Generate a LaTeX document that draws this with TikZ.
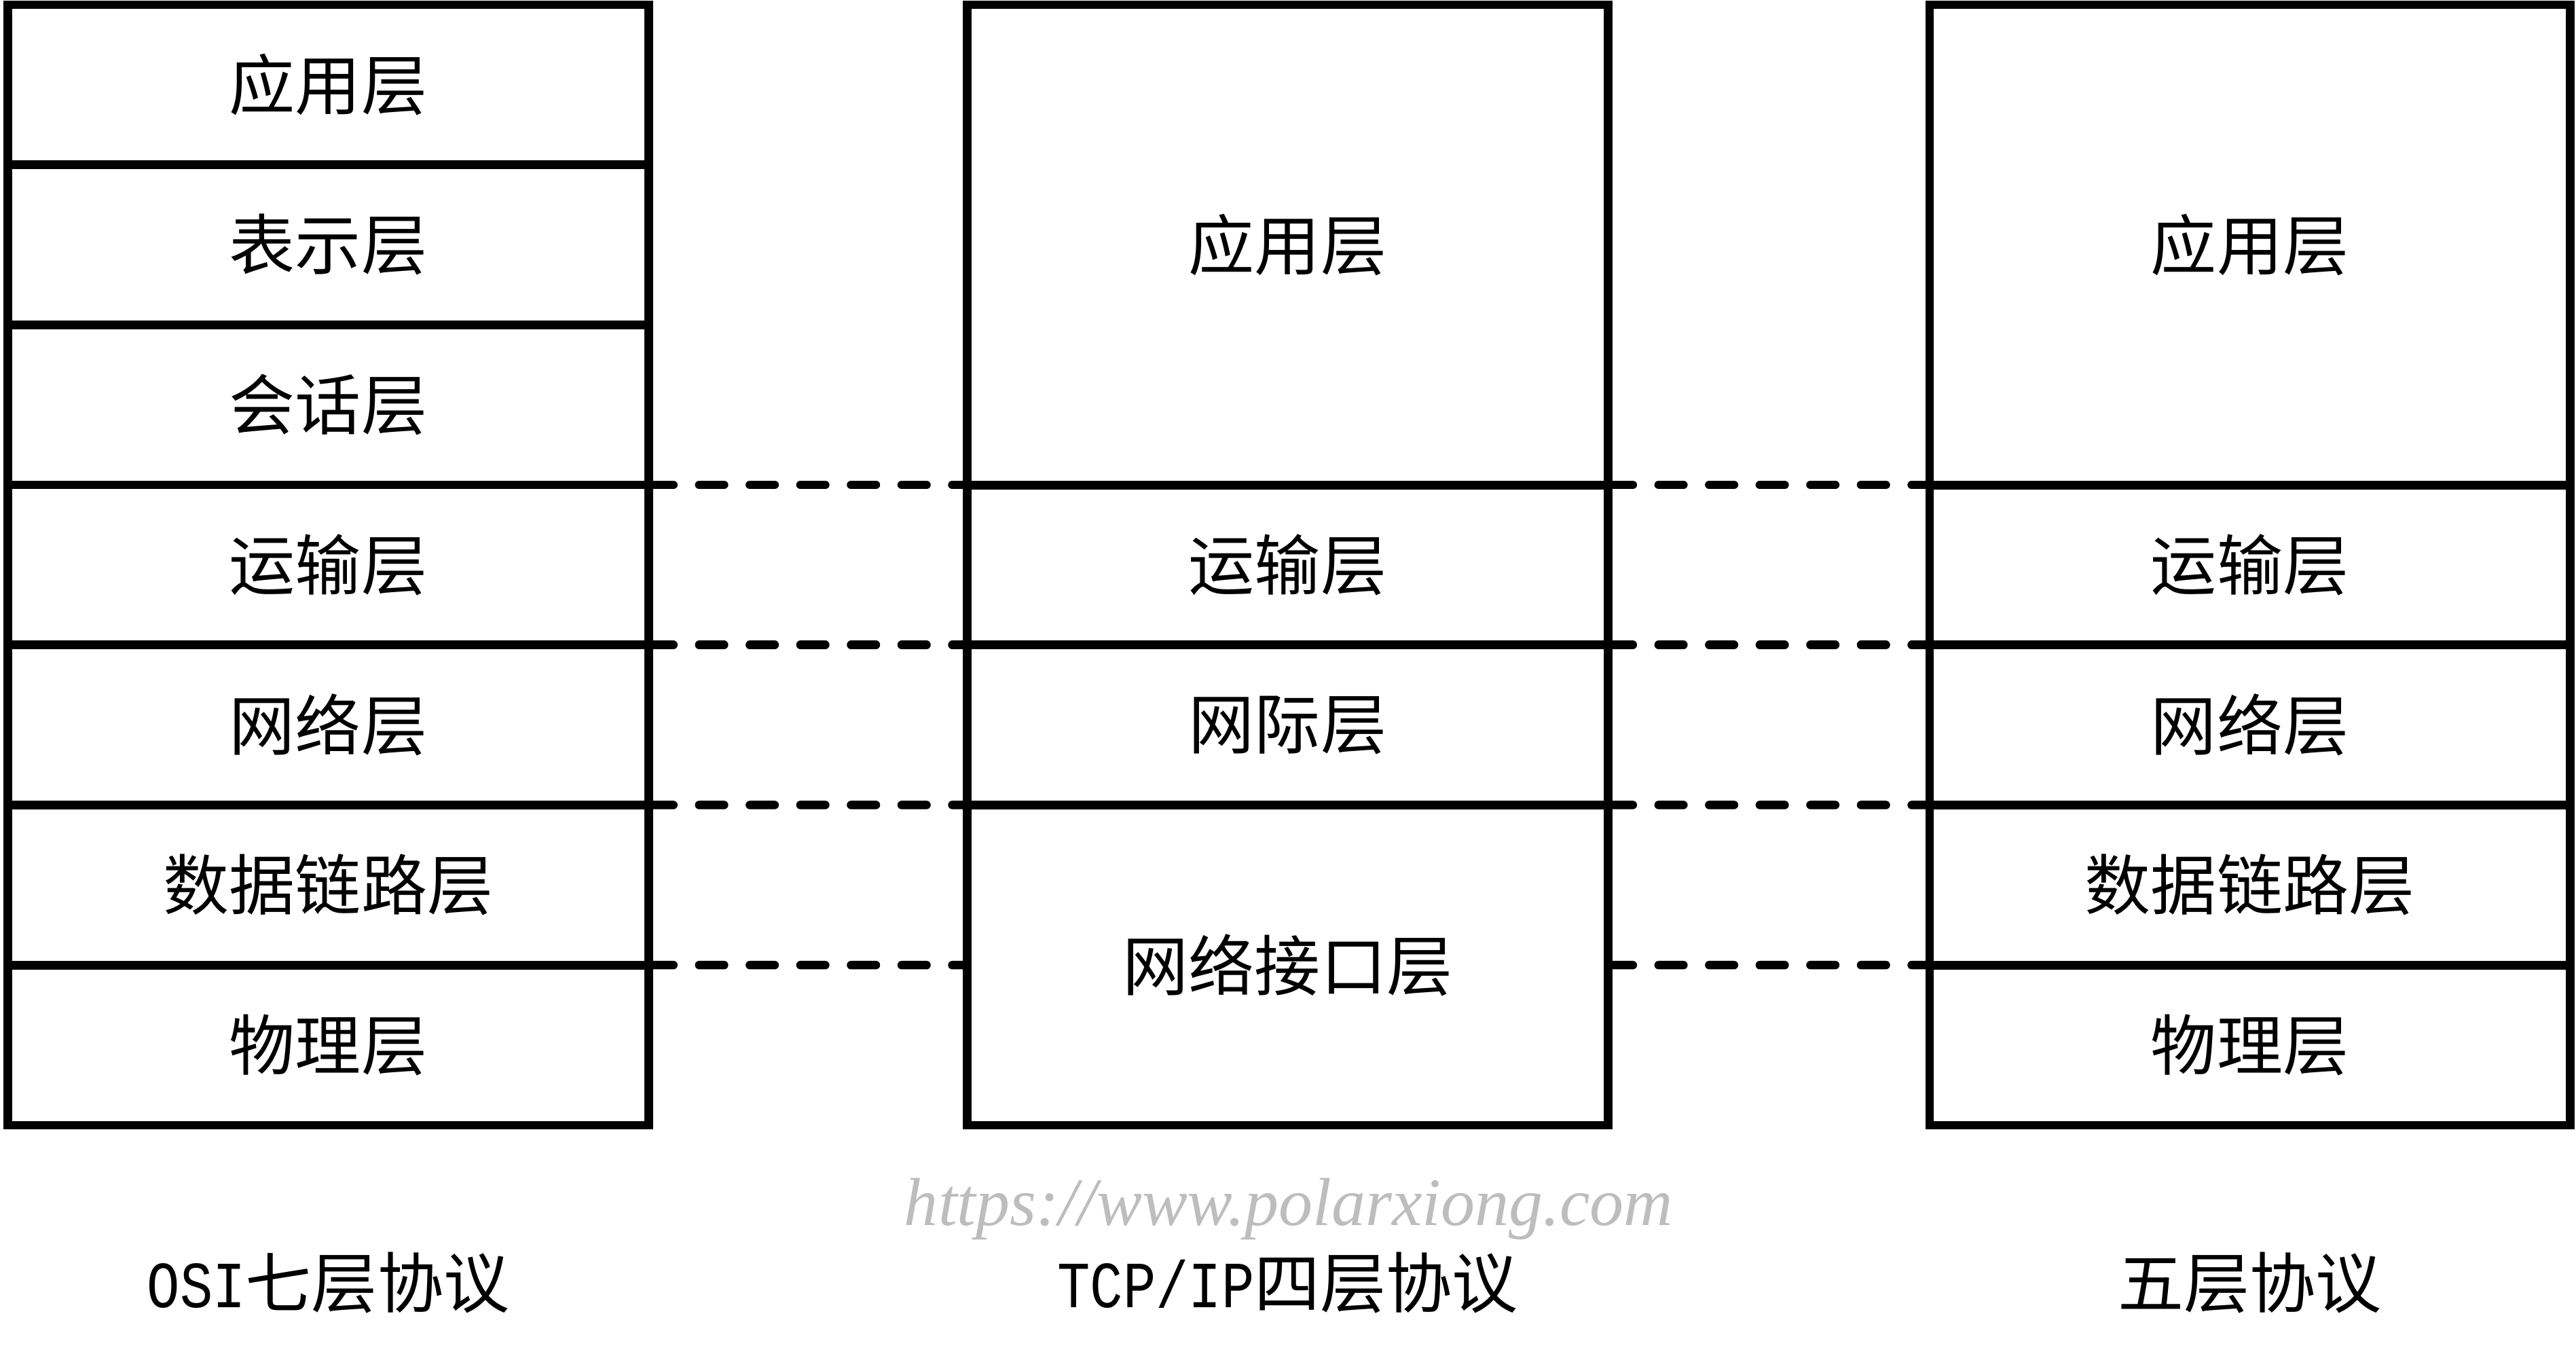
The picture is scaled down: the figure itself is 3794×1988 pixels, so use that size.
\documentclass[tikz,border=0pt]{standalone}
\usepackage{fontspec}
\newfontfamily\cjk{Noto Sans CJK SC}
\newfontfamily\latmono[FakeStretch=0.83]{Liberation Mono}
\newfontfamily\wmfont{Liberation Serif}
\definecolor{wmgray}{HTML}{BDBDBD}
\tikzset{
  layer/.style={draw=black, line width=0.125cm, minimum width=9.43cm, outer sep=0pt, inner sep=0pt,
    font=\cjk\fontsize{27.6pt}{30pt}\selectfont},
  onerow/.style={layer, minimum height=2.357cm},
  tworow/.style={layer, minimum height=4.714cm},
  threerow/.style={layer, minimum height=7.071cm},
  dashline/.style={line width=0.125cm, line cap=round, dash pattern=on 0.365cm off 0.38cm},
  caption/.style={inner sep=0pt, font=\cjk\fontsize{27.6pt}{30pt}\selectfont},
  watermark/.style={inner sep=0pt, text=wmgray, font=\wmfont\itshape\fontsize{28.45pt}{30pt}\selectfont}
}
\begin{document}
\begin{tikzpicture}[x=0.01cm, y=-0.01cm]
\useasboundingbox (0,0) rectangle (3794,1988);
% OSI column
\node[onerow] (L1) at (483.5,124.85) {应用层};
\node[onerow] (L2) at (483.5,360.55) {表示层};
\node[onerow] (L3) at (483.5,596.25) {会话层};
\node[onerow] (L4) at (483.5,831.95) {运输层};
\node[onerow] (L5) at (483.5,1067.65) {网络层};
\node[onerow] (L6) at (483.5,1303.35) {数据链路层};
\node[onerow] (L7) at (483.5,1539.05) {物理层};
% TCP/IP column
\node[threerow] (M1) at (1896.5,360.55) {应用层};
\node[onerow] (M2) at (1896.5,831.95) {运输层};
\node[onerow] (M3) at (1896.5,1067.65) {网际层};
\node[tworow] (M4) at (1896.5,1421.2) {网络接口层};
% five-layer column
\node[threerow] (R1) at (3313.5,360.55) {应用层};
\node[onerow] (R2) at (3313.5,831.95) {运输层};
\node[onerow] (R3) at (3313.5,1067.65) {网络层};
\node[onerow] (R4) at (3313.5,1303.35) {数据链路层};
\node[onerow] (R5) at (3313.5,1539.05) {物理层};
% dashed correspondences
\draw[dashline] (L4.north east) -- (M2.north west);
\draw[dashline] (M2.north east) -- (R2.north west);
\draw[dashline] (L5.north east) -- (M3.north west);
\draw[dashline] (M3.north east) -- (R3.north west);
\draw[dashline] (L6.north east) -- (M4.north west);
\draw[dashline] (M4.north east) -- (R4.north west);
\draw[dashline] (L7.north east) -- (M4.west);
\draw[dashline] (M4.east) -- (R5.north west);
% watermark and captions
\node[watermark] (wm) at (1898,1780) {https://www.polarxiong.com};
\node[caption] (capL) at (483.5,1889) {{\latmono OSI}七层协议};
\node[caption] (capM) at (1896.5,1889) {{\latmono TCP/IP}四层协议};
\node[caption] (capR) at (3313.5,1889) {五层协议};
\end{tikzpicture}
\end{document}
